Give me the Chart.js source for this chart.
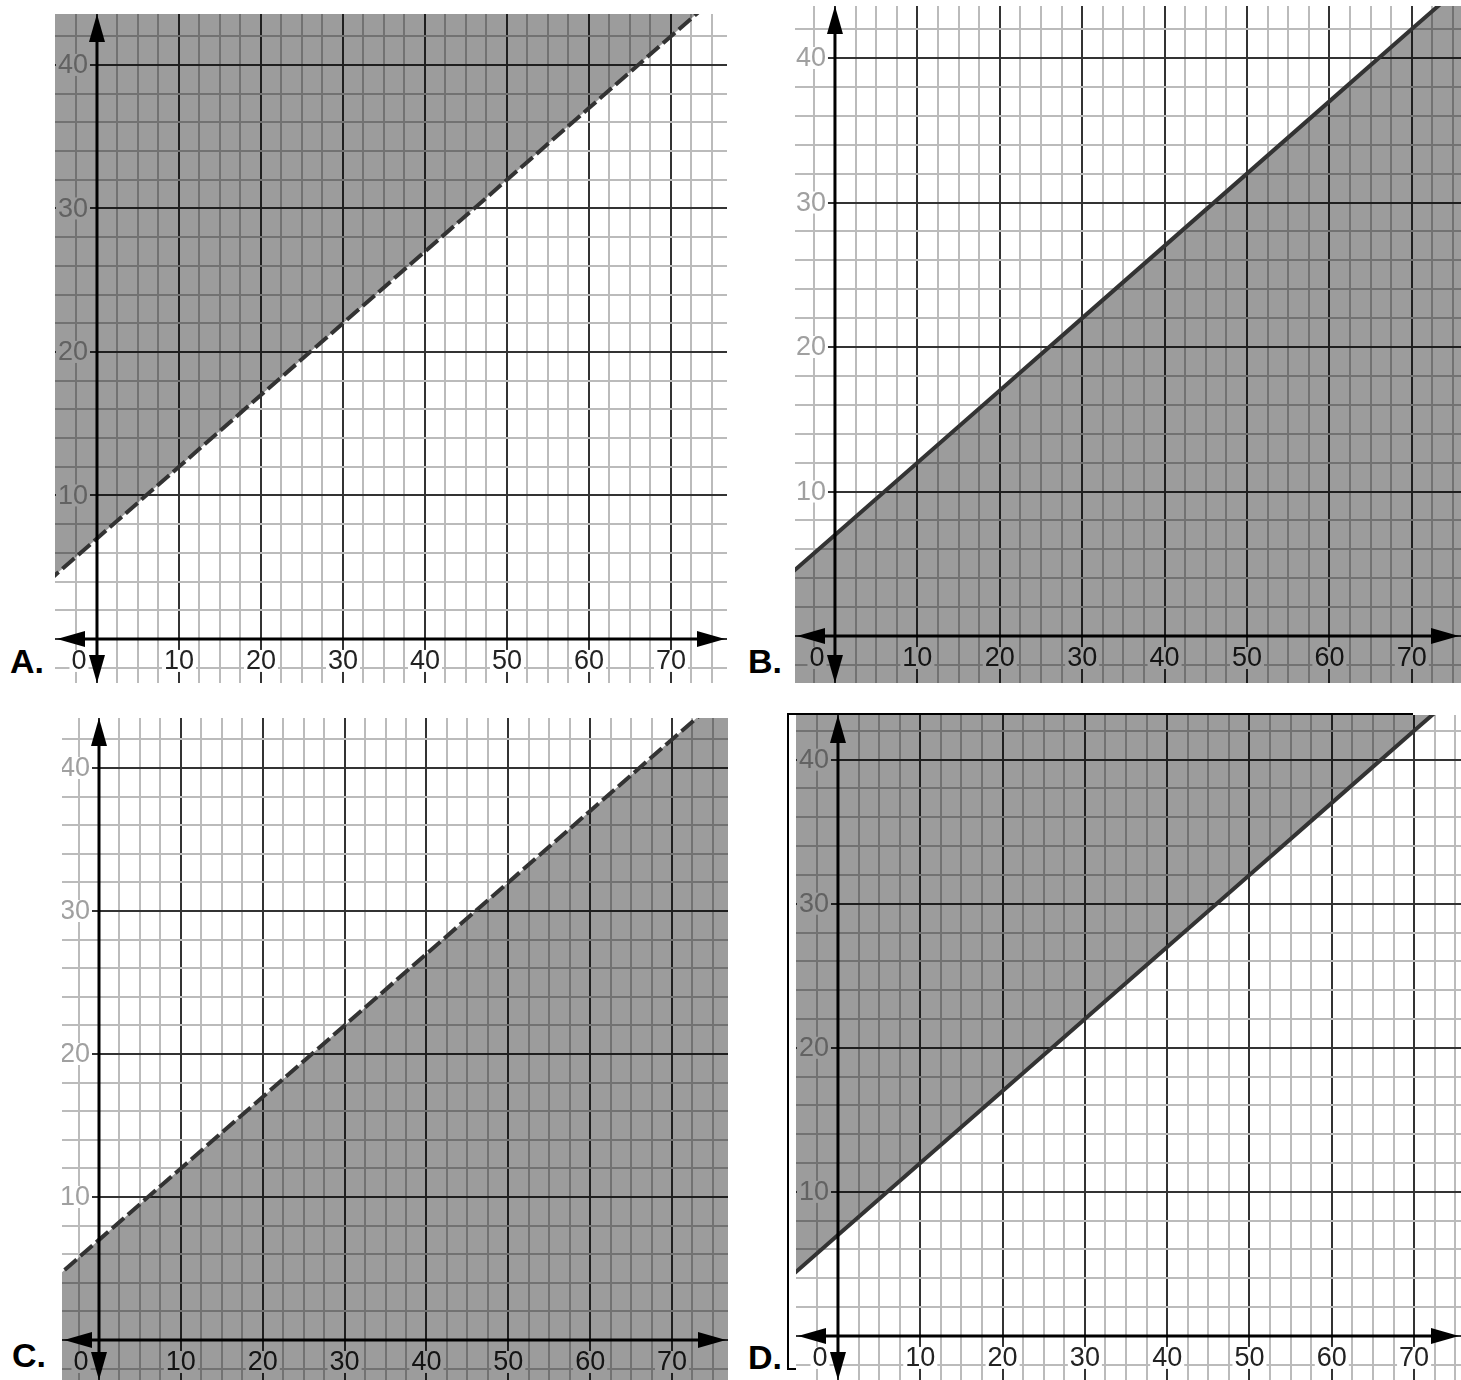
<!DOCTYPE html>
<html>
<head>
<meta charset="utf-8">
<script src="https://cdn.jsdelivr.net/npm/chart.js@4.4.1/dist/chart.umd.min.js"></script>
<style>
    body { margin: 0; background: #fff; width: 1461px; height: 1380px; position: relative; overflow: hidden; font-family: "Liberation Sans", Arial, sans-serif; }
    .panel { position: absolute; }
    .tag { position: absolute; font-weight: bold; font-size: 34px; line-height: 1; color: #000; }
    .frame { position: absolute; background: #000; }
</style>
</head>
<body>
<canvas class="panel" id="panel-a"></canvas>
<canvas class="panel" id="panel-b"></canvas>
<canvas class="panel" id="panel-c"></canvas>
<canvas class="panel" id="panel-d"></canvas>

<div class="tag" style="left:10px;top:644px">A.</div>
<div class="tag" style="left:748px;top:644px">B.</div>
<div class="tag" style="left:12px;top:1338px">C.</div>
<div class="tag" style="left:748px;top:1340px">D.</div>

<!-- thin frame around panel D -->
<div class="frame" style="left:787px;top:713px;width:626px;height:2px"></div>
<div class="frame" style="left:787px;top:713px;width:2px;height:657px"></div>
<div class="frame" style="left:787px;top:1368px;width:9px;height:2px"></div>

<script>
// boundary line (same in all four panels)
const lineX = [-10, 0, 10, 20, 30, 40, 50, 60, 70, 80];
const lineY = [2, 7, 12, 17, 22, 27, 32, 37, 42, 47];

const xTickLabels = [10, 20, 30, 40, 50, 60, 70];
const yTickLabels = [10, 20, 30, 40];
const originLabel = '0';

// grid: x every 2.5, y every 2, darker every 10
const xGrid = [-2.5, 0, 2.5, 5, 7.5, 10, 12.5, 15, 17.5, 20, 22.5, 25, 27.5, 30, 32.5, 35, 37.5,
    40, 42.5, 45, 47.5, 50, 52.5, 55, 57.5, 60, 62.5, 65, 67.5, 70, 72.5, 75];
const yGrid = [-2, 0, 2, 4, 6, 8, 10, 12, 14, 16, 18, 20, 22, 24, 26, 28, 30, 32, 34, 36, 38, 40, 42];
const majorEvery = 10;

const panelIds = ['panel-a', 'panel-b', 'panel-c', 'panel-d'];
const shadeSide = ['end', 'start', 'start', 'end'];   // 'end' = above, 'start' = below
const dashed = [true, false, true, false];

// placement of each plot on the page and the range it shows
const layout = [
    { left: 55, top: 14, width: 672, height: 669, xMin: -5.12, xMax: 76.83, yMin: -3.07, yMax: 43.55 },
    { left: 795, top: 6, width: 666, height: 677, xMin: -4.85, xMax: 75.97, yMin: -3.25, yMax: 43.6 },
    { left: 62, top: 718, width: 666, height: 662, xMin: -4.52, xMax: 76.84, yMin: -2.8, yMax: 43.5 },
    { left: 796, top: 715, width: 665, height: 665, xMin: -5.1, xMax: 75.7, yMin: -3.06, yMax: 43.1 }
];

const FONT = '27px "Liberation Sans", Arial, sans-serif';

function arrow(ctx, tipX, tipY, dx, dy) {
    // dx,dy = unit direction the arrow points to
    const len = 28, half = 8;
    const bx = tipX - dx * len, by = tipY - dy * len;
    ctx.beginPath();
    ctx.moveTo(tipX, tipY);
    ctx.lineTo(bx - dy * half, by + dx * half);
    ctx.lineTo(bx + dy * half, by - dx * half);
    ctx.closePath();
    ctx.fill();
}

function labelBox(ctx, text, cx, cy, align, color) {
    const tw = ctx.measureText(text).width;
    const left = align === 'right' ? cx - tw : cx - tw / 2;
    ctx.fillStyle = '#fff';
    ctx.fillRect(left - 2, cy - 11, tw + 4, 22);
    ctx.fillStyle = color;
    ctx.textAlign = align;
    ctx.textBaseline = 'middle';
    ctx.fillText(text, cx, cy + 1);
}

const sketchPlugin = {
    id: 'sketch',
    beforeDatasetsDraw(chart) {
        // labels go under the translucent shading, like in the picture
        const { ctx, scales: { x, y } } = chart;
        const ox = x.getPixelForValue(0), oy = y.getPixelForValue(0);
        ctx.save();
        ctx.font = FONT;
        yTickLabels.forEach(v => labelBox(ctx, String(v), ox - 9, y.getPixelForValue(v), 'right', '#a0a0a0'));
        xTickLabels.forEach(v => labelBox(ctx, String(v), x.getPixelForValue(v), oy + 22, 'center', '#222'));
        labelBox(ctx, originLabel, ox - 18, oy + 22, 'center', '#222');
        ctx.restore();
    },
    afterDatasetsDraw(chart) {
        const { ctx, chartArea: a, scales: { x, y } } = chart;
        const ox = x.getPixelForValue(0), oy = y.getPixelForValue(0);
        ctx.save();
        ctx.strokeStyle = '#000';
        ctx.fillStyle = '#000';
        ctx.lineWidth = 3;
        ctx.beginPath();
        ctx.moveTo(a.left + 10, oy);
        ctx.lineTo(a.right - 10, oy);
        ctx.moveTo(ox, a.top + 10);
        ctx.lineTo(ox, a.bottom - 10);
        ctx.stroke();
        arrow(ctx, a.left + 2, oy, -1, 0);
        arrow(ctx, a.right - 2, oy, 1, 0);
        arrow(ctx, ox, a.top, 0, -1);
        arrow(ctx, ox, a.bottom, 0, 1);
        ctx.restore();
    }
};

function gridOpts() {
    return {
        drawTicks: false,
        color: c => (c.tick && c.tick.value % majorEvery === 0) ? '#333' : '#bbb',
        lineWidth: 2
    };
}

panelIds.forEach((id, i) => {
    const box = layout[i];
    const canvas = document.getElementById(id);
    canvas.width = box.width;
    canvas.height = box.height;
    canvas.style.left = box.left + 'px';
    canvas.style.top = box.top + 'px';

    new Chart(canvas.getContext('2d'), {
        type: 'scatter',
        data: {
            datasets: [{
                data: lineX.map((vx, k) => ({ x: vx, y: lineY[k] })),
                showLine: true,
                pointRadius: 0,
                borderColor: '#333',
                borderWidth: 4,
                borderDash: dashed[i] ? [16, 5] : [],
                fill: shadeSide[i],
                backgroundColor: 'rgba(0, 0, 0, 0.39)'
            }]
        },
        options: {
            responsive: false,
            animation: false,
            layout: { padding: 0 },
            plugins: { legend: { display: false }, tooltip: { enabled: false } },
            scales: {
                x: {
                    type: 'linear', min: box.xMin, max: box.xMax,
                    afterBuildTicks: s => { s.ticks = xGrid.map(v => ({ value: v })); },
                    ticks: { display: false, autoSkip: false },
                    grid: gridOpts(),
                    border: { display: false }
                },
                y: {
                    type: 'linear', min: box.yMin, max: box.yMax,
                    afterBuildTicks: s => { s.ticks = yGrid.map(v => ({ value: v })); },
                    ticks: { display: false, autoSkip: false },
                    grid: gridOpts(),
                    border: { display: false }
                }
            }
        },
        plugins: [sketchPlugin]
    });
});
</script>
</body>
</html>
